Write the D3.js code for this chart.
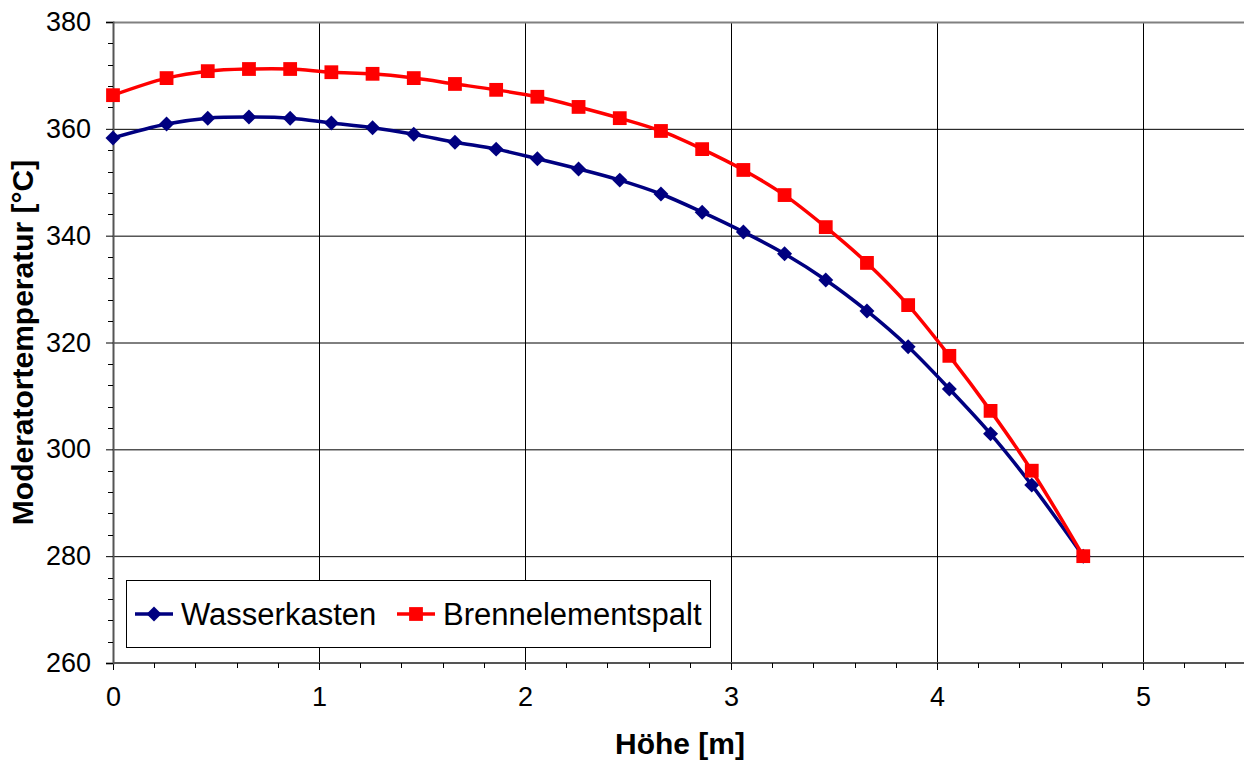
<!DOCTYPE html>
<html>
<head>
<meta charset="utf-8">
<script src="https://cdn.jsdelivr.net/npm/d3@7"></script>
<style>
  body { margin: 0; background: #fff; }
  text { font-family: "Liberation Sans", Arial, sans-serif; fill: #000; }
</style>
</head>
<body>
<script>
// Höhe [m]
var hoehe = [0, 0.26, 0.46, 0.66, 0.86, 1.06, 1.26, 1.46, 1.66, 1.86, 2.06, 2.26,
             2.46, 2.66, 2.86, 3.06, 3.26, 3.46, 3.66, 3.86, 4.06, 4.26, 4.46, 4.71];

var wasserkasten = [358.3, 360.9, 362.0, 362.2, 362.0, 361.1, 360.2, 359.0, 357.5, 356.2, 354.4, 352.5,
                    350.4, 347.8, 344.4, 340.7, 336.6, 331.7, 325.9, 319.2, 311.3, 302.9, 293.3, 280.0];

var brennelementspalt = [366.3, 369.5, 370.8, 371.2, 371.2, 370.6, 370.3, 369.5, 368.4, 367.3, 366.0, 364.1,
                         362.0, 359.6, 356.2, 352.3, 347.6, 341.6, 334.9, 327.0, 317.5, 307.2, 296.0, 280.0];

var xTicks = [0, 1, 2, 3, 4, 5];
var yTicks = [260, 280, 300, 320, 340, 360, 380];

var width = 1244, height = 762;
var margin = {top: 22, left: 113};

var x = d3.scaleLinear().domain([0, 5.5]).range([margin.left, margin.left + 5.5 * 206]);
var y = d3.scaleLinear().domain([260, 380]).range([663, margin.top]);

var svg = d3.select("body").append("svg")
    .attr("width", width)
    .attr("height", height);

// gridlines
svg.append("g").selectAll("line.h")
    .data(yTicks.slice(1, -1))
    .enter().append("line")
        .attr("x1", x(0)).attr("x2", width)
        .attr("y1", function(d) { return y(d) + 0.5; })
        .attr("y2", function(d) { return y(d) + 0.5; })
        .attr("stroke", "#000").attr("stroke-width", 1);

svg.append("g").selectAll("line.v")
    .data(xTicks.slice(1))
    .enter().append("line")
        .attr("x1", function(d) { return Math.round(x(d)) + 0.5; })
        .attr("x2", function(d) { return Math.round(x(d)) + 0.5; })
        .attr("y1", y(380)).attr("y2", y(260))
        .attr("stroke", "#000").attr("stroke-width", 1);

// top border
svg.append("line")
    .attr("x1", x(0)).attr("x2", width)
    .attr("y1", y(380) + 0.5).attr("y2", y(380) + 0.5)
    .attr("stroke", "#808080").attr("stroke-width", 2);

// axes
var minorX = d3.range(0, 5.51, 0.2).filter(function(d) { return Math.abs(d - Math.round(d)) > 1e-6; });
var minorY = d3.range(260, 381, 4).filter(function(d) { return d % 20 !== 0; });

var xAxis = d3.axisBottom(x).tickValues(xTicks).tickFormat(d3.format("d")).tickSize(7).tickPadding(17);
var yAxis = d3.axisLeft(y).tickValues(yTicks).tickFormat(d3.format("d")).tickSize(7).tickPadding(15);

var gx = svg.append("g")
    .attr("transform", "translate(0," + y(260) + ")")
    .call(xAxis);
gx.append("g").selectAll("line")
    .data(minorX)
    .enter().append("line")
        .attr("x1", function(d) { return Math.round(x(d)) + 0.5; })
        .attr("x2", function(d) { return Math.round(x(d)) + 0.5; })
        .attr("y1", 0).attr("y2", 5)
        .attr("stroke", "#000");

var gy = svg.append("g")
    .attr("transform", "translate(" + x(0) + ",0)")
    .call(yAxis);
gy.append("g").selectAll("line")
    .data(minorY)
    .enter().append("line")
        .attr("x1", -5).attr("x2", 0)
        .attr("y1", function(d) { return Math.round(y(d)) + 0.5; })
        .attr("y2", function(d) { return Math.round(y(d)) + 0.5; })
        .attr("stroke", "#000");

[gx, gy].forEach(function(g) {
    g.select(".domain").attr("stroke", "#555").attr("stroke-width", 2);
    g.selectAll(".tick line").attr("stroke", "#000");
    g.selectAll(".tick text")
        .style("font-family", "'Liberation Sans', Arial, sans-serif")
        .style("font-size", "27px")
        .attr("fill", "#000");
});
gx.select(".domain").attr("d", "M" + x(0) + ",0H" + width);

// axis titles
svg.append("text")
    .attr("x", 680).attr("y", 754)
    .attr("text-anchor", "middle")
    .style("font-size", "30px").style("font-weight", "bold")
    .text("Höhe [m]");

svg.append("text")
    .attr("transform", "translate(33," + (y(320)) + ") rotate(-90)")
    .attr("text-anchor", "middle")
    .style("font-size", "30px").style("font-weight", "bold")
    .text("Moderatortemperatur [°C]");

// diamond as a square turned by 45 degrees (Excel style)
var diamond = {
    draw: function(context, size) {
        var r = Math.sqrt(size / 2);
        context.moveTo(0, -r);
        context.lineTo(r, 0);
        context.lineTo(0, r);
        context.lineTo(-r, 0);
        context.closePath();
    }
};

// series
var series = [
    {name: "Wasserkasten", values: wasserkasten, color: "#000080", symbol: diamond, size: 112},
    {name: "Brennelementspalt", values: brennelementspalt, color: "#FF0000", symbol: d3.symbolSquare, size: 190}
];

var line = d3.line()
    .x(function(d) { return x(d[0]); })
    .y(function(d) { return y(d[1]); })
    .curve(d3.curveCatmullRom.alpha(0.5));

series.forEach(function(s) {
    var pts = hoehe.map(function(h, i) { return [h, s.values[i]]; });
    svg.append("path")
        .datum(pts)
        .attr("fill", "none")
        .attr("stroke", s.color)
        .attr("stroke-width", 3.5)
        .attr("d", line);
    svg.append("g").selectAll("path")
        .data(pts)
        .enter().append("path")
            .attr("transform", function(d) { return "translate(" + x(d[0]) + "," + y(d[1]) + ")"; })
            .attr("d", d3.symbol().type(s.symbol).size(s.size))
            .attr("fill", s.color);
});

// legend
var legend = svg.append("g").attr("transform", "translate(126,580)");
legend.append("rect")
    .attr("x", 0.5).attr("y", 0.5)
    .attr("width", 584).attr("height", 67)
    .attr("fill", "#fff").attr("stroke", "#000").attr("stroke-width", 1);

var offsets = [9, 271];
series.forEach(function(s, i) {
    var g = legend.append("g").attr("transform", "translate(" + offsets[i] + ",34)");
    g.append("line").attr("x1", 0).attr("x2", 38)
        .attr("stroke", s.color).attr("stroke-width", 3.5);
    g.append("path")
        .attr("transform", "translate(19,0)")
        .attr("d", d3.symbol().type(s.symbol).size(s.size))
        .attr("fill", s.color);
    g.append("text")
        .attr("x", 46).attr("y", 11)
        .style("font-size", "31px")
        .text(s.name);
});
</script>
</body>
</html>
